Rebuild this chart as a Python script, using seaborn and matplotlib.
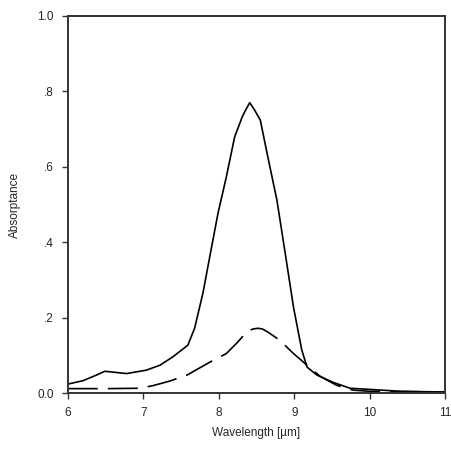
import numpy as np
import pandas as pd
import seaborn as sns
import matplotlib.pyplot as plt

# data
wl_solid = [6.0, 6.2, 6.38, 6.49, 6.78, 7.04, 7.22, 7.39, 7.59, 7.68, 7.79, 7.88, 7.99,
            8.10, 8.21, 8.31, 8.36, 8.41, 8.47, 8.55, 8.65, 8.77, 8.88, 8.99, 9.10, 9.17,
            9.30, 9.51, 9.74, 10.0, 10.4, 10.7, 11.0]
abs_solid = [0.024, 0.033, 0.048, 0.058, 0.052, 0.061, 0.074, 0.096, 0.127, 0.172, 0.265,
             0.361, 0.477, 0.573, 0.679, 0.732, 0.752, 0.770, 0.752, 0.724, 0.626, 0.512,
             0.371, 0.228, 0.114, 0.069, 0.048, 0.029, 0.013, 0.010, 0.005, 0.004, 0.003]
wl_dash = [6.0, 6.5, 6.95, 7.13, 7.35, 7.58, 7.88, 8.10, 8.24, 8.37, 8.45, 8.52, 8.58,
           8.65, 8.81, 8.99, 9.17, 9.34, 9.56, 9.78, 10.0, 10.5, 11.0]
abs_dash = [0.012, 0.012, 0.013, 0.020, 0.032, 0.048, 0.082, 0.105, 0.133, 0.162, 0.170,
            0.172, 0.170, 0.162, 0.140, 0.105, 0.074, 0.045, 0.021, 0.008, 0.005, 0.004,
            0.003]
y_ticks = [0.0, 0.2, 0.4, 0.6, 0.8, 1.0]
y_labels = ['0.0', '.2', '.4', '.6', '.8', '1.0']
x_ticks = [6, 7, 8, 9, 10, 11]

sns.set_style('ticks')
plt.rcParams['font.family'] = ['Liberation Sans', 'DejaVu Sans']

fig = plt.figure(figsize=(4.52, 4.54), dpi=100)
ax = fig.add_axes([0.150, 0.134, 0.835, 0.831])

sns.lineplot(x=wl_solid, y=abs_solid, ax=ax, color='black', lw=1.2)
sns.lineplot(x=wl_dash, y=abs_dash, ax=ax, color='black', lw=1.2)
ax.lines[-1].set_dashes((18, 6))

ax.set_xlim(6, 11)
ax.set_ylim(0, 1.0)
ax.set_xticks(x_ticks)
ax.set_yticks(y_ticks)
ax.set_yticklabels(y_labels)
ax.tick_params(labelsize=8.5, length=4, width=1, color='#333333', pad=6)
for s in ax.spines.values():
    s.set_linewidth(1.4)
    s.set_color('#333333')
ax.set_xlabel('Wavelength [µm]', fontsize=8.5, labelpad=6)
ax.set_ylabel('Absorptance', fontsize=8.5, labelpad=12)

fig.savefig('out.png', dpi=100)
